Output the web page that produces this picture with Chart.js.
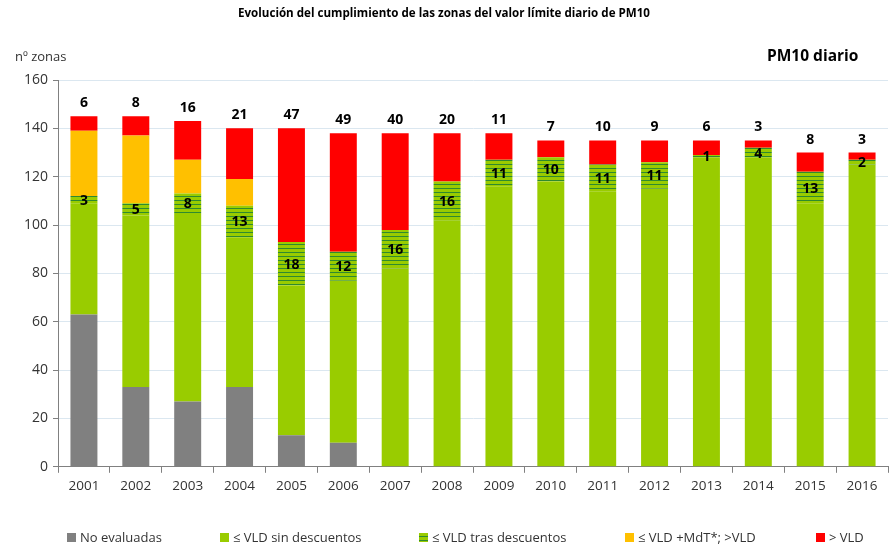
<!DOCTYPE html>
<html>
<head>
<meta charset="utf-8">
<script src="https://cdn.jsdelivr.net/npm/chart.js@4/dist/chart.umd.min.js"></script>
<style>
  html, body { margin: 0; padding: 0; background: #fff; }
  #wrap { position: relative; width: 896px; height: 547px; }
</style>
</head>
<body>
<div id="wrap"><canvas id="chart" width="896" height="547"></canvas></div>
<script>
// Data
const years = ['2001','2002','2003','2004','2005','2006','2007','2008','2009','2010','2011','2012','2013','2014','2015','2016'];
const noEvaluadas    = [63, 33, 27, 33, 13, 10,  0,   0,   0,   0,   0,   0,   0,   0,   0,   0];
const sinDescuentos  = [46, 71, 78, 62, 62, 67, 82, 102, 116, 118, 114, 115, 128, 128, 109, 125];
const trasDescuentos = [ 3,  5,  8, 13, 18, 12, 16,  16,  11,  10,  11,  11,   1,   4,  13,   2];
const masMdT         = [27, 28, 14, 11,  0,  0,  0,   0,   0,   0,   0,   0,   0,   0,   0,   0];
const superaVLD      = [ 6,  8, 16, 21, 47, 49, 40,  20,  11,   7,  10,   9,   6,   3,   8,   3];
const yTicks = [0, 20, 40, 60, 80, 100, 120, 140, 160];

const FONT = "'Open Sans', 'DejaVu Sans', sans-serif";

// horizontal hatch: light green with dark green stripes
function makeHatch() {
  const c = document.createElement('canvas');
  c.width = 8; c.height = 4;
  const g = c.getContext('2d');
  g.fillStyle = '#99cc00';
  g.fillRect(0, 0, 8, 4);
  g.fillStyle = '#2f8a2f';
  g.fillRect(0, 0, 8, 1);
  return g.createPattern(c, 'repeat');
}
const hatch = makeHatch();

const colors = ['#808080', '#99cc00', hatch, '#ffc000', '#ff0000'];
const names = ['No evaluadas', '≤ VLD sin descuentos', '≤ VLD tras descuentos', '≤ VLD +MdT*; >VLD', '> VLD'];

// labels, legend and header texts
const extras = {
  id: 'extras',
  afterDatasetsDraw(chart) {
    const ctx = chart.ctx;
    ctx.save();
    ctx.fillStyle = '#000';
    ctx.textAlign = 'center';

    // numbers inside the hatched segment
    ctx.font = "bold 14px " + FONT;
    ctx.textBaseline = 'middle';
    const hm = chart.getDatasetMeta(2);
    hm.data.forEach((bar, i) => {
      ctx.fillText(String(trasDescuentos[i]), bar.x, (bar.y + bar.base) / 2 + 1);
    });

    // exceedance count above each bar
    ctx.textBaseline = 'bottom';
    ctx.font = "bold 14px " + FONT;
    const tm = chart.getDatasetMeta(4);
    tm.data.forEach((bar, i) => {
      ctx.fillText(String(superaVLD[i]), bar.x, bar.y - 6);
    });

    // header texts
    ctx.textBaseline = 'middle';
    ctx.font = "bold 11.6px " + FONT;
    ctx.fillText('Evolución del cumplimiento de las zonas del valor límite diario de PM10', 444, 14);
    ctx.textAlign = 'left';
    ctx.fillStyle = '#333';
    ctx.font = "13px " + FONT;
    ctx.fillText('nº zonas', 15, 57);
    ctx.fillStyle = '#000';
    ctx.font = "bold 15.5px " + FONT;
    ctx.fillText('PM10 diario', 767, 57);

    // legend
    const legendX = [67, 220, 419, 625, 816];
    ctx.font = "13px " + FONT;
    names.forEach((n, i) => {
      ctx.fillStyle = colors[i];
      ctx.fillRect(legendX[i], 533, 9, 9);
      ctx.fillStyle = '#333';
      ctx.fillText(n, legendX[i] + 13, 538);
    });
    ctx.restore();
  }
};

const series = [noEvaluadas, sinDescuentos, trasDescuentos, masMdT, superaVLD];

new Chart(document.getElementById('chart'), {
  type: 'bar',
  data: {
    labels: years,
    datasets: series.map((d, i) => ({
      label: names[i],
      data: d,
      backgroundColor: colors[i],
      borderWidth: 0,
      barPercentage: 0.52,
      categoryPercentage: 1.0
    }))
  },
  options: {
    responsive: false,
    animation: false,
    layout: { padding: { top: 80, right: 8, bottom: 48, left: 0 } },
    plugins: {
      legend: { display: false },
      tooltip: { enabled: false },
      title: { display: false }
    },
    scales: {
      x: {
        stacked: true,
        grid: { drawOnChartArea: false, drawTicks: true, tickLength: 6, color: '#808080', offset: true },
        border: { color: '#808080', width: 1 },
        ticks: { color: '#333', font: { family: FONT, size: 13.5 }, padding: 5 }
      },
      y: {
        stacked: true,
        min: 0,
        max: 160,
        afterFit(scale) { scale.width = 58; },
        afterBuildTicks(scale) { scale.ticks = yTicks.map(v => ({ value: v })); },
        grid: { color: '#dbe7f0', tickColor: '#808080', tickLength: 5 },
        border: { color: '#808080', width: 1 },
        ticks: { color: '#333', font: { family: FONT, size: 14 }, padding: 5 }
      }
    }
  },
  plugins: [extras]
});
</script>
</body>
</html>
